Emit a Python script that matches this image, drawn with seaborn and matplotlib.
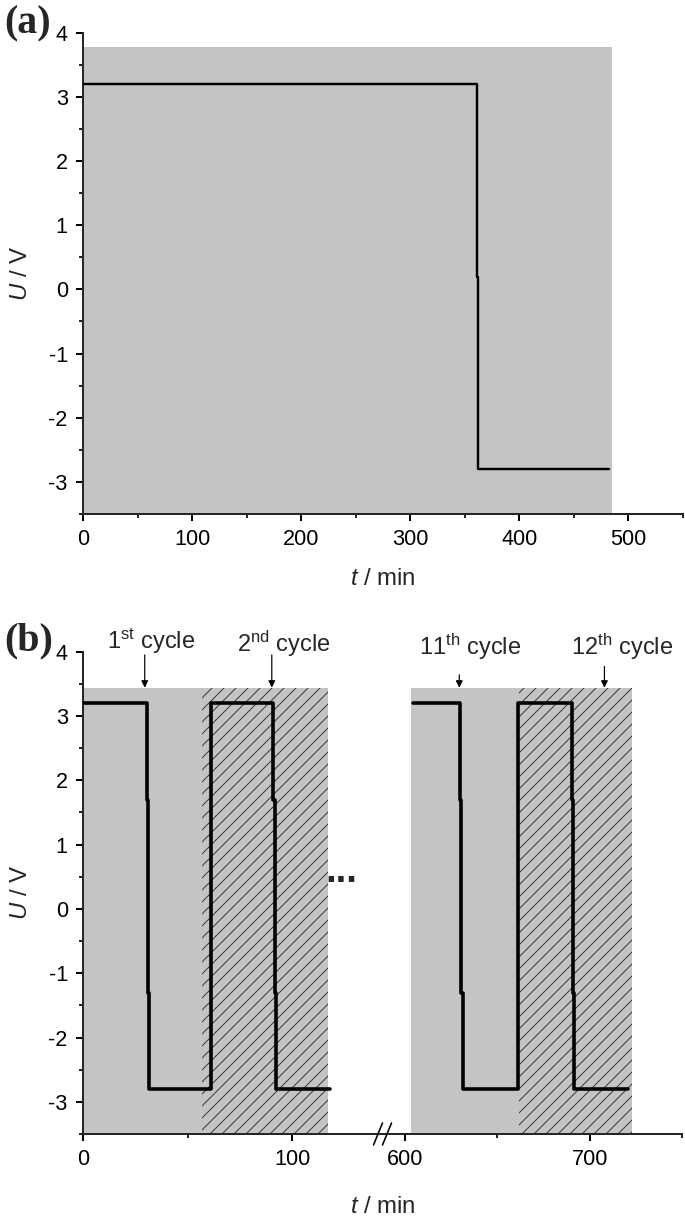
import matplotlib
matplotlib.use("Agg")
import matplotlib.pyplot as plt
import seaborn as sns
from matplotlib.lines import Line2D
from matplotlib.ticker import FixedLocator

# --- data ---
# (a) one long charge step followed by discharge
t_a = [0, 361, 361, 362, 362, 482]
u_a = [3.2, 3.2, 0.2, 0.2, -2.8, -2.8]
shade_a = [(0, 485)]
shade_top_a = 3.78

# (b) first two cycles and last two cycles (broken time axis)
t_first = [0, 30.4, 30.4, 31.0, 31.0, 31.6, 31.6, 61.2, 61.2, 91, 91, 91.6, 91.6, 92.2, 92.2, 118]
u_first = [3.2, 3.2, 1.7, 1.7, -1.3, -1.3, -2.8, -2.8, 3.2, 3.2, 1.7, 1.7, -1.3, -1.3, -2.8, -2.8]
t_last = [604.5, 630, 630, 630.6, 630.6, 631.2, 631.2, 661, 661, 690.5, 690.5, 691.1, 691.1, 691.7, 691.7, 721]
u_last = u_first
shade_plain_b = [(0, 57), (603.5, 661.5)]
shade_hatch_b = [(57, 117), (661.5, 723)]
shade_top_b = 3.44

cycle_labels = ['$1^{\\mathrm{st}}$ cycle', '$2^{\\mathrm{nd}}$ cycle',
                '$11^{\\mathrm{th}}$ cycle', '$12^{\\mathrm{th}}$ cycle']
cycle_arrow_t = [29.5, 90.2, 629.4, 708]

y_min, y_max = -3.5, 4

# --- style ---
sns.set_style("ticks")
plt.rcParams['font.family'] = ['Liberation Sans', 'DejaVu Sans']
plt.rcParams['axes.unicode_minus'] = False
plt.rcParams['mathtext.fontset'] = 'custom'
plt.rcParams['mathtext.rm'] = 'Liberation Sans'
plt.rcParams['mathtext.it'] = 'Liberation Sans:italic'
plt.rcParams['mathtext.bf'] = 'Liberation Sans:bold'
plt.rcParams['hatch.linewidth'] = 0.5
plt.rcParams['hatch.color'] = '#3a3a3a'

GRAY = '#c4c4c4'
DPI = 144
fig = plt.figure(figsize=(685 / DPI, 1218 / DPI), dpi=DPI)


def px(x, y):
    # figure pixel -> figure fraction
    return x / 685, 1 - y / 1218


def style_axis(ax, xmajor, xminor, show_y=True):
    ax.set_ylim(y_min, y_max)
    ax.xaxis.set_major_locator(FixedLocator(xmajor))
    ax.xaxis.set_minor_locator(FixedLocator(xminor))
    for s in ['top', 'right']:
        ax.spines[s].set_visible(False)
    for s in ['left', 'bottom']:
        ax.spines[s].set_linewidth(1.0)
    ax.tick_params(which='major', direction='out', length=3.6, width=1.0,
                   labelsize=10.8, pad=4, colors='black')
    ax.tick_params(which='minor', direction='out', length=2.0, width=1.0)
    if show_y:
        ax.yaxis.set_major_locator(FixedLocator(range(-3, 5)))
        ax.yaxis.set_minor_locator(FixedLocator([v + 0.5 for v in range(-4, 4)]))
    else:
        ax.spines['left'].set_visible(False)
        ax.tick_params(axis='y', which='both', left=False, labelleft=False)
    ax.set_facecolor('white')


# --- panel (a) ---
ax_a = fig.add_axes([83 / 685, 1 - 514 / 1218, 599.7 / 685, (514 - 32.7) / 1218])
for x0, x1 in shade_a:
    ax_a.fill_between([x0, x1], y_min, shade_top_a, facecolor=GRAY, lw=0, zorder=1)
sns.lineplot(x=t_a, y=u_a, sort=False, estimator=None, color='black', lw=1.2, ax=ax_a, zorder=3)
ax_a.set_xlim(0, 550)
style_axis(ax_a, range(0, 501, 100), range(50, 551, 100))
ax_a.set_xlabel('$\\it{t}$ / min', fontsize=12)
ax_a.xaxis.set_label_coords(0.5, -0.112)
ax_a.set_ylabel('$\\it{U}$ / V', fontsize=12)
ax_a.yaxis.set_label_coords(-0.085, 0.5)

# --- panel (b) ---
b_bottom = 1 - 1134 / 1218
b_height = (1134 - 651.7) / 1218
ax_b1 = fig.add_axes([83 / 685, b_bottom, 303.5 / 685, b_height])
ax_b2 = fig.add_axes([386.5 / 685, b_bottom, 295.5 / 685, b_height])

for ax in (ax_b1, ax_b2):
    for x0, x1 in shade_plain_b:
        ax.fill_between([x0, x1], y_min, shade_top_b, facecolor=GRAY, lw=0, zorder=1)
    for x0, x1 in shade_hatch_b:
        ax.fill_between([x0, x1], y_min, shade_top_b, facecolor=GRAY, edgecolor='#3a3a3a',
                        hatch='////', lw=0, zorder=1)

sns.lineplot(x=t_first, y=u_first, sort=False, estimator=None, color='black', lw=1.8, ax=ax_b1, zorder=3)
sns.lineplot(x=t_last, y=u_last, sort=False, estimator=None, color='black', lw=1.8, ax=ax_b2, zorder=3)

ax_b1.set_xlim(0, 145)
ax_b2.set_xlim(590, 750)
style_axis(ax_b1, [0, 100], [50])
style_axis(ax_b2, [600, 700], [650, 750], show_y=False)
ax_b1.set_ylabel('$\\it{U}$ / V', fontsize=12)
ax_b1.yaxis.set_label_coords(-0.168, 0.5)
fig.text(*px(383, 1207), '$\\it{t}$ / min', fontsize=12, ha='center', va='center')

# cycle annotations
arrow_start = [3.95, 3.95, 3.64, 3.77]
text_t = [32.5, 96, 635.4, 717.8]
text_u = [4.04, 4.0, 3.95, 3.95]
for i, lab in enumerate(cycle_labels):
    ax = ax_b1 if i < 2 else ax_b2
    ax.text(text_t[i], text_u[i], lab, fontsize=11.8, ha='center', va='baseline', clip_on=False)
    ax.annotate('', xy=(cycle_arrow_t[i], shade_top_b), xytext=(cycle_arrow_t[i], arrow_start[i]),
                arrowprops=dict(arrowstyle='-|>', color='black', lw=0.6,
                                mutation_scale=7, shrinkA=0, shrinkB=0),
                annotation_clip=False, zorder=5)

# ellipsis between the two parts
fig.text(*px(341, 882), '...', fontsize=19, fontweight='bold', ha='center', va='baseline')

# axis break marks
for xc in (378, 387):
    x0, y0 = px(xc - 4.5, 1145)
    x1, y1 = px(xc + 4.5, 1123)
    fig.add_artist(Line2D([x0, x1], [y0, y1], color='black', lw=0.8))

# panel letters
fig.text(*px(4, 24), '(a)', fontsize=20, fontweight='bold', family='Liberation Serif',
         ha='left', va='center')
fig.text(*px(4, 641), '(b)', fontsize=20, fontweight='bold', family='Liberation Serif',
         ha='left', va='center')

fig.savefig('out.png', dpi=DPI)
